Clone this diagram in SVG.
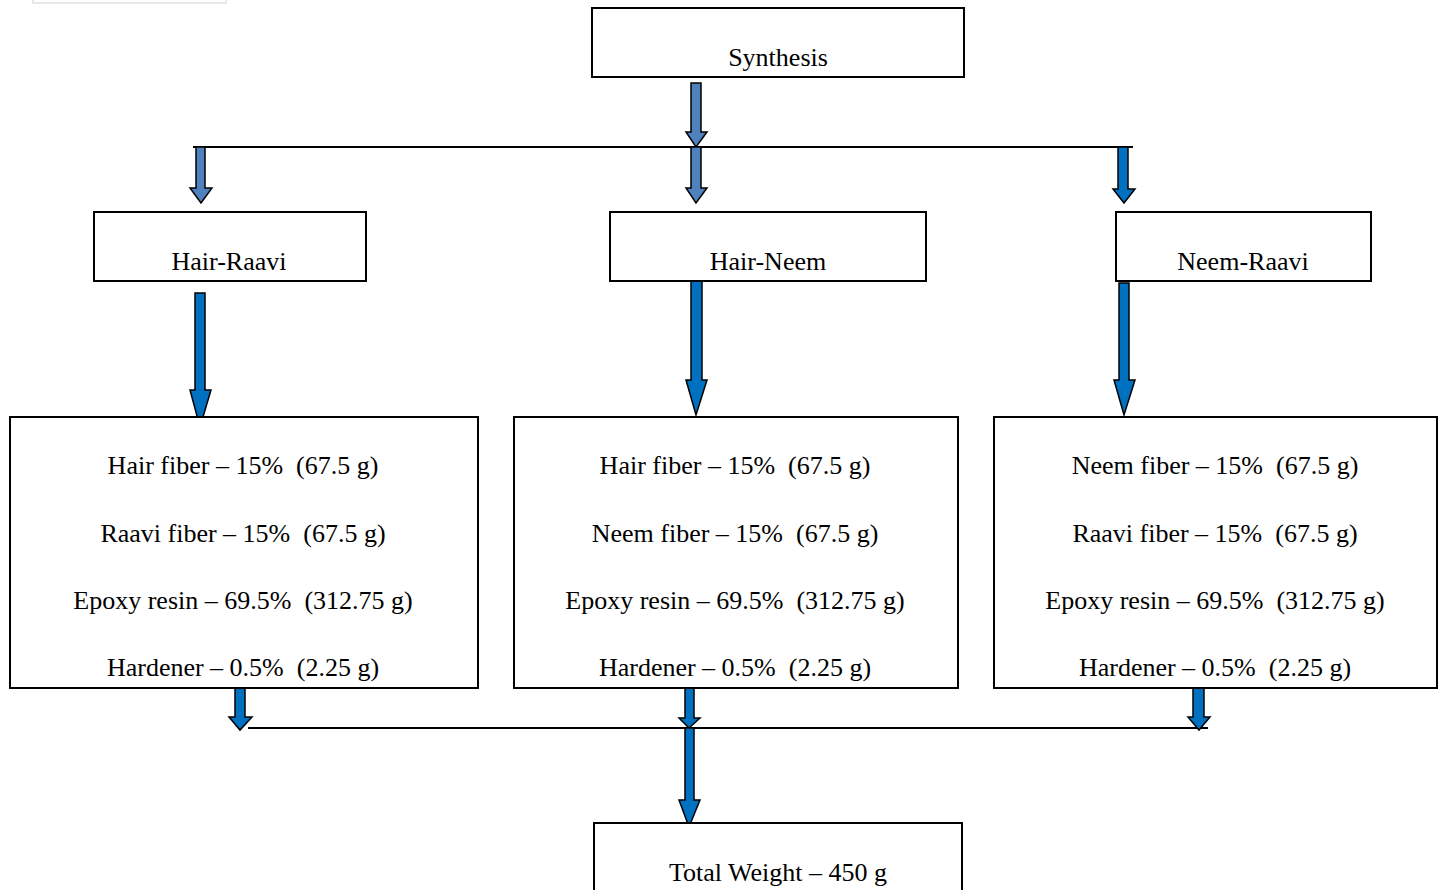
<svg xmlns="http://www.w3.org/2000/svg" width="1438" height="890" viewBox="0 0 1438 890">
<style>
.box{fill:#fff;stroke:#000;stroke-width:2}
.t{font-family:"Liberation Serif","Times New Roman",serif;font-size:26px;fill:#000;text-anchor:middle}
.line{stroke:#000;stroke-width:2;fill:none}
.a1{fill:#4F81BD;stroke:#000;stroke-width:1.5;stroke-linejoin:miter}
.a2{fill:#0070C0;stroke:#000;stroke-width:1.5;stroke-linejoin:miter}
</style>
<rect x="0" y="0" width="1438" height="890" fill="#fff"/>
<rect x="33" y="-10" width="193" height="13" fill="none" stroke="#e0e0e0" stroke-width="1.5"/>

<g id="connectors">
  <line class="line" x1="193" y1="147" x2="1133" y2="147"/>
  <line class="line" x1="248" y1="728" x2="1208" y2="728"/>
  <polygon class="a1" points="691,83 701,83 701,132 707,132 696,147 686,132 691,132"/>
  <polygon class="a1" points="691,147 701,147 701,188 707,188 696,203 686,188 691,188"/>
  <polygon class="a1" points="196,147 205,147 205,188 212,188 201,203 190,188 196,188"/>
  <polygon class="a2" points="1118,147 1128,147 1128,189 1135,189 1124,203 1113,189 1118,189"/>
  <polygon class="a2" points="195,293 205,293 205,390 211,390 200,427 190,390 195,390"/>
  <polygon class="a2" points="691,281 702,281 702,380 707,380 696,415 686,380 691,380"/>
  <polygon class="a2" points="1119,283 1129,283 1129,380 1135,380 1124,415 1114,380 1119,380"/>
  <polygon class="a2" points="235,688 245,688 245,717 252,717 240,730 229,717 235,717"/>
  <polygon class="a2" points="685,688 694,688 694,718 700,718 689,728 679,718 685,718"/>
  <polygon class="a2" points="1193,688 1204,688 1204,717 1210,717 1199,730 1188,717 1193,717"/>
  <polygon class="a2" points="685,728 694,728 694,800 700,800 689,827 679,800 685,800"/>
</g>

<g id="synthesis">
  <rect class="box" x="592" y="8" width="372" height="69"/>
  <text class="t" x="778" y="66">Synthesis</text>
</g>
<g id="hair-raavi">
  <rect class="box" x="94" y="212" width="272" height="69"/>
  <text class="t" x="229" y="270">Hair-Raavi</text>
</g>
<g id="hair-neem">
  <rect class="box" x="610" y="212" width="316" height="69"/>
  <text class="t" x="768" y="270">Hair-Neem</text>
</g>
<g id="neem-raavi">
  <rect class="box" x="1116" y="212" width="255" height="69"/>
  <text class="t" x="1243" y="270">Neem-Raavi</text>
</g>
<g id="mix-hair-raavi">
  <rect class="box" x="10" y="417" width="468" height="271"/>
  <text class="t" x="243" y="474" xml:space="preserve">Hair fiber – 15%  (67.5 g)</text>
  <text class="t" x="243" y="542" xml:space="preserve">Raavi fiber – 15%  (67.5 g)</text>
  <text class="t" x="243" y="609" xml:space="preserve">Epoxy resin – 69.5%  (312.75 g)</text>
  <text class="t" x="243" y="676" xml:space="preserve">Hardener – 0.5%  (2.25 g)</text>
</g>
<g id="mix-hair-neem">
  <rect class="box" x="514" y="417" width="444" height="271"/>
  <text class="t" x="735" y="474" xml:space="preserve">Hair fiber – 15%  (67.5 g)</text>
  <text class="t" x="735" y="542" xml:space="preserve">Neem fiber – 15%  (67.5 g)</text>
  <text class="t" x="735" y="609" xml:space="preserve">Epoxy resin – 69.5%  (312.75 g)</text>
  <text class="t" x="735" y="676" xml:space="preserve">Hardener – 0.5%  (2.25 g)</text>
</g>
<g id="mix-neem-raavi">
  <rect class="box" x="994" y="417" width="443" height="271"/>
  <text class="t" x="1215" y="474" xml:space="preserve">Neem fiber – 15%  (67.5 g)</text>
  <text class="t" x="1215" y="542" xml:space="preserve">Raavi fiber – 15%  (67.5 g)</text>
  <text class="t" x="1215" y="609" xml:space="preserve">Epoxy resin – 69.5%  (312.75 g)</text>
  <text class="t" x="1215" y="676" xml:space="preserve">Hardener – 0.5%  (2.25 g)</text>
</g>
<g id="total">
  <rect class="box" x="594" y="823" width="368" height="80"/>
  <text class="t" x="778" y="881">Total Weight – 450 g</text>
</g>
</svg>
